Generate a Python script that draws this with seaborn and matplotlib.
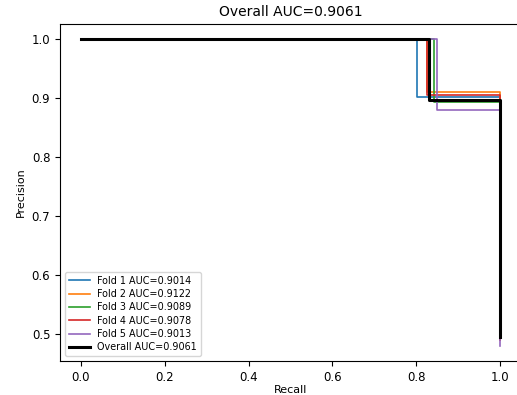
import pandas as pd
import seaborn as sns
import matplotlib
matplotlib.use("Agg")
import matplotlib.pyplot as plt

# step points of each precision-recall curve
fold_labels = ["Fold 1 AUC=0.9014", "Fold 2 AUC=0.9122", "Fold 3 AUC=0.9089",
               "Fold 4 AUC=0.9078", "Fold 5 AUC=0.9013"]
fold_colors = ["#1f77b4", "#ff7f0e", "#2ca02c", "#d62728", "#9467bd"]
fold_recall = [
    [0.0, 0.802, 0.802, 1.0, 1.0],
    [0.0, 0.825, 0.825, 1.0, 1.0],
    [0.0, 0.843, 0.843, 1.0, 1.0],
    [0.0, 0.825, 0.825, 1.0, 1.0],
    [0.0, 0.850, 0.850, 1.0, 1.0],
]
fold_precision = [
    [1.0, 1.0, 0.902, 0.902, 0.500],
    [1.0, 1.0, 0.910, 0.910, 0.490],
    [1.0, 1.0, 0.893, 0.893, 0.495],
    [1.0, 1.0, 0.905, 0.905, 0.490],
    [1.0, 1.0, 0.881, 0.881, 0.481],
]
overall_label = "Overall AUC=0.9061"
overall_recall = [0.0, 0.831, 0.831, 1.0, 1.0]
overall_precision = [1.0, 1.0, 0.898, 0.898, 0.495]

fig = plt.figure(figsize=(5.17, 3.95), dpi=100)
ax = fig.add_axes([0.1161, 0.0861, 0.8917, 0.8532])

for lab, col, r, p in zip(fold_labels, fold_colors, fold_recall, fold_precision):
    df = pd.DataFrame({"Recall": r, "Precision": p})
    sns.lineplot(data=df, x="Recall", y="Precision", sort=False, estimator=None,
                 color=col, linewidth=1.2, label=lab, ax=ax)

df = pd.DataFrame({"Recall": overall_recall, "Precision": overall_precision})
sns.lineplot(data=df, x="Recall", y="Precision", sort=False, estimator=None,
             color="black", linewidth=2.2, label=overall_label, ax=ax)

ax.set_title("Overall AUC=0.9061", fontsize=10)
ax.set_xlabel("Recall", fontsize=8, labelpad=1)
ax.set_ylabel("Precision", fontsize=8)
ax.tick_params(labelsize=8.5)
ax.set_xticks([0.0, 0.2, 0.4, 0.6, 0.8, 1.0])
ax.set_yticks([0.5, 0.6, 0.7, 0.8, 0.9, 1.0])
ax.legend(loc="lower left", fontsize=6.9, labelspacing=0.35, handlelength=2.2)

fig.savefig("out.png", dpi=100)
